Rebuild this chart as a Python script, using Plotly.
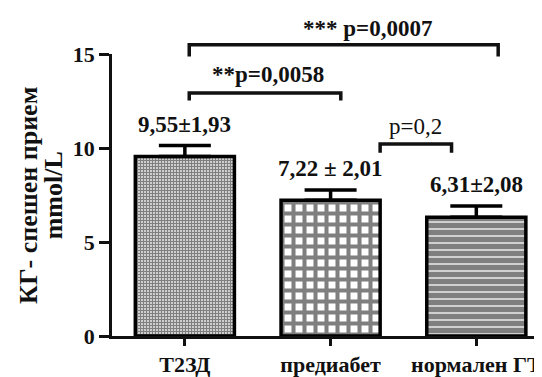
import plotly.graph_objects as go

# ---------------- data ----------------
categories = ["Т2ЗД", "предиабет", "нормален ГТ"]
means = [9.55, 7.22, 6.31]
sem = [0.58, 0.54, 0.60]
value_labels = ["9,55±1,93", "7,22 ± 2,01", "6,31±2,08"]
y_ticks = [0, 5, 10, 15]
y_title_lines = ["КГ- спешен прием", "mmol/L"]

# comparison brackets
comp_text = ["*** p=0,0007", "**p=0,0058", "p=0,2"]
comp_left = [0.03, 0.03, 1.34]
comp_right = [2.15, 1.07, 1.83]
comp_level = [15.49, 12.93, 10.21]
comp_leg = [14.87, 12.52, 9.75]
comp_text_x = [1.25, 0.57, 1.58]
comp_text_level = [16.36, 13.9, 11.14]
comp_bold = [True, True, False]

YMAX = 15
FONT = "Liberation Serif"
INK = "#111"

patterns = [
    dict(shape="+", size=3, solidity=0.7, fgcolor="black", bgcolor="white"),
    dict(shape="+", size=11, solidity=0.6, fgcolor="black", bgcolor="white"),
    dict(shape="-", size=7, solidity=0.82, fgcolor="black", bgcolor="white"),
]

fig = go.Figure()
for i, c in enumerate(categories):
    fig.add_trace(go.Bar(
        x=[c], y=[means[i]], width=0.68,
        marker=dict(color="white", pattern=patterns[i],
                    line=dict(color="black", width=3.5)),
        error_y=dict(type="data", array=[sem[i]], arrayminus=[0], symmetric=False,
                     color="black", thickness=3.5, width=26),
        showlegend=False,
    ))

def py(v):
    return v / YMAX

# value labels above error bars
for i, c in enumerate(categories):
    fig.add_annotation(x=c, y=means[i] + sem[i], xref="x", yref="y",
                       text="<b>%s</b>" % value_labels[i], showarrow=False,
                       xanchor="center", yanchor="bottom", yshift=7,
                       font=dict(family=FONT, size=23, color=INK))

# comparison brackets
for k in range(len(comp_text)):
    xl, xr = comp_left[k], comp_right[k]
    lv, lg = py(comp_level[k]), py(comp_leg[k])
    path = "M %f,%f L %f,%f L %f,%f L %f,%f" % (xl, lg, xl, lv, xr, lv, xr, lg)
    fig.add_shape(type="path", xref="x", yref="paper", path=path,
                  line=dict(color=INK, width=3.5))
    t = comp_text[k]
    if comp_bold[k]:
        t = "<b>%s</b>" % t
    fig.add_annotation(x=comp_text_x[k], y=py(comp_text_level[k]), xref="x", yref="paper",
                       text=t, showarrow=False, xanchor="center", yanchor="middle",
                       font=dict(family=FONT, size=23, color=INK))

# y axis title (two tightly spaced lines)
for line, xp in zip(y_title_lines, [-0.1965, -0.137]):
    fig.add_annotation(x=xp, y=0.5, xref="paper", yref="paper",
                       text="<b>%s</b>" % line, textangle=-90,
                       xanchor="center", yanchor="middle",
                       showarrow=False, font=dict(family=FONT, size=26, color=INK))

fig.update_layout(
    width=534, height=369,
    margin=dict(l=104, r=0, t=46, b=29),
    paper_bgcolor="white", plot_bgcolor="white",
    font=dict(family=FONT, color=INK),
    xaxis=dict(range=[-0.5, 2.437], showline=True, linecolor=INK, linewidth=2.5,
               ticks="outside", ticklen=7, tickwidth=2.5, tickcolor=INK,
               tickfont=dict(family=FONT, size=22, color=INK),
               showgrid=False, zeroline=False,
               tickvals=[0, 1, 2], ticktext=["<b>%s</b>" % c for c in categories],
               type="category"),
    yaxis=dict(range=[0, YMAX], showline=True, linecolor=INK, linewidth=2.5,
               ticks="outside", ticklen=10, tickwidth=2.5, tickcolor=INK,
               tickvals=y_ticks, ticktext=["<b>%d</b>" % v for v in y_ticks],
               tickfont=dict(family=FONT, size=22, color=INK),
               showgrid=False, zeroline=False),
)

fig.write_html("out.html")
